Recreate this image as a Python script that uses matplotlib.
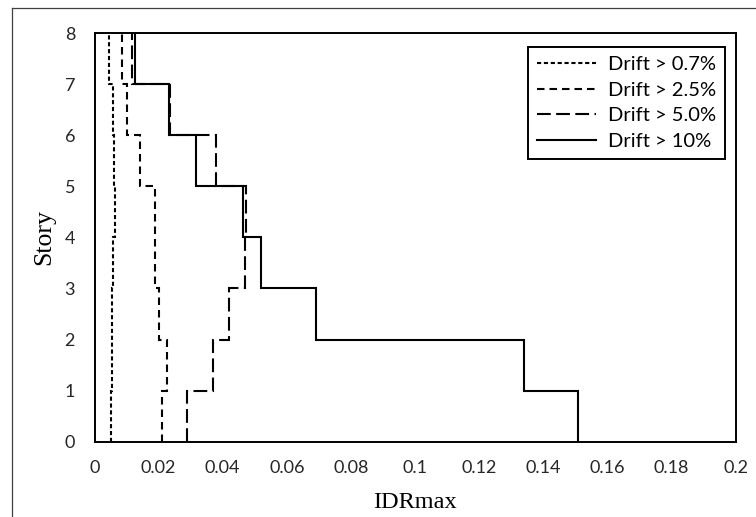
import matplotlib
matplotlib.use("Agg")
import matplotlib.pyplot as plt
from matplotlib.lines import Line2D
import numpy as np

# Peak inter-story drift ratio per story (stories 1..8, bottom to top)
stories = [1, 2, 3, 4, 5, 6, 7, 8]
drift_07 = [0.0050, 0.0056, 0.0056, 0.0057, 0.0064, 0.0062, 0.0057, 0.0045]
drift_25 = [0.0210, 0.0226, 0.0200, 0.0188, 0.0188, 0.0143, 0.0102, 0.0086]
drift_50 = [0.0290, 0.0370, 0.0421, 0.0470, 0.0472, 0.0380, 0.0236, 0.0118]
drift_10 = [0.1510, 0.1340, 0.0690, 0.0520, 0.0462, 0.0316, 0.0232, 0.0126]
labels = ["Drift > 0.7%", "Drift > 2.5%", "Drift > 5.0%", "Drift > 10%"]

x_ticks = [0, 0.02, 0.04, 0.06, 0.08, 0.1, 0.12, 0.14, 0.16, 0.18, 0.2]
x_tick_labels = ["0", "0.02", "0.04", "0.06", "0.08", "0.1", "0.12", "0.14", "0.16", "0.18", "0.2"]
y_ticks = [0, 1, 2, 3, 4, 5, 6, 7, 8]

W, H = 756, 517
fig = plt.figure(figsize=(W / 100, H / 100), dpi=100)
ax = fig.add_axes([94.5 / W, 1 - 441.7 / H, 641 / W, 408.7 / H])

edges = np.arange(0, len(stories) + 1)
lw = 1.5
styles = [
    (0, (2.0, 1.3)),
    (0, (3.6, 2.4)),
    (0, (6.6, 2.6)),
    "-",
]
series = [drift_07, drift_25, drift_50, drift_10]
for vals, ls, lab in zip(series, styles, labels):
    ax.stairs(vals, edges, orientation="horizontal", baseline=None,
              color="black", linewidth=lw, linestyle=ls, label=lab)

ax.set_xlim(0, 0.2)
ax.set_ylim(0, 8)
ax.set_xticks(x_ticks)
ax.set_xticklabels(x_tick_labels)
ax.set_yticks(y_ticks)
ax.tick_params(axis="both", length=0, labelsize=13, colors="#262626")
ax.tick_params(axis="x", pad=13)
ax.tick_params(axis="y", pad=14)
for lab in ax.get_xticklabels() + ax.get_yticklabels():
    lab.set_fontfamily("Lato")
for sp in ax.spines.values():
    sp.set_linewidth(1.4)
    sp.set_color("black")

ax.set_xlabel("IDRmax", fontfamily="Liberation Serif", fontsize=17.5, labelpad=12)
ax.set_ylabel("Story", fontfamily="Liberation Serif", fontsize=18.5, labelpad=7)

leg = ax.legend(loc="upper right", bbox_to_anchor=((725 - 94.5) / 641, 1 - (47 - 33) / 408.7),
                borderaxespad=0, fancybox=False, framealpha=1, edgecolor="black",
                prop={"family": "Lato", "size": 14.5}, handlelength=2.9,
                handletextpad=0.6, labelspacing=0.42, borderpad=0.45)
leg.get_frame().set_linewidth(1.4)

# outer frame of the chart area
fig.add_artist(Line2D([11.7 / W, 11.7 / W], [0, 1 - 8 / H], color="#404040", lw=0.9))
fig.add_artist(Line2D([11.7 / W, 1], [1 - 8 / H, 1 - 8 / H], color="#404040", lw=0.9))

fig.savefig("out.png", dpi=100)
